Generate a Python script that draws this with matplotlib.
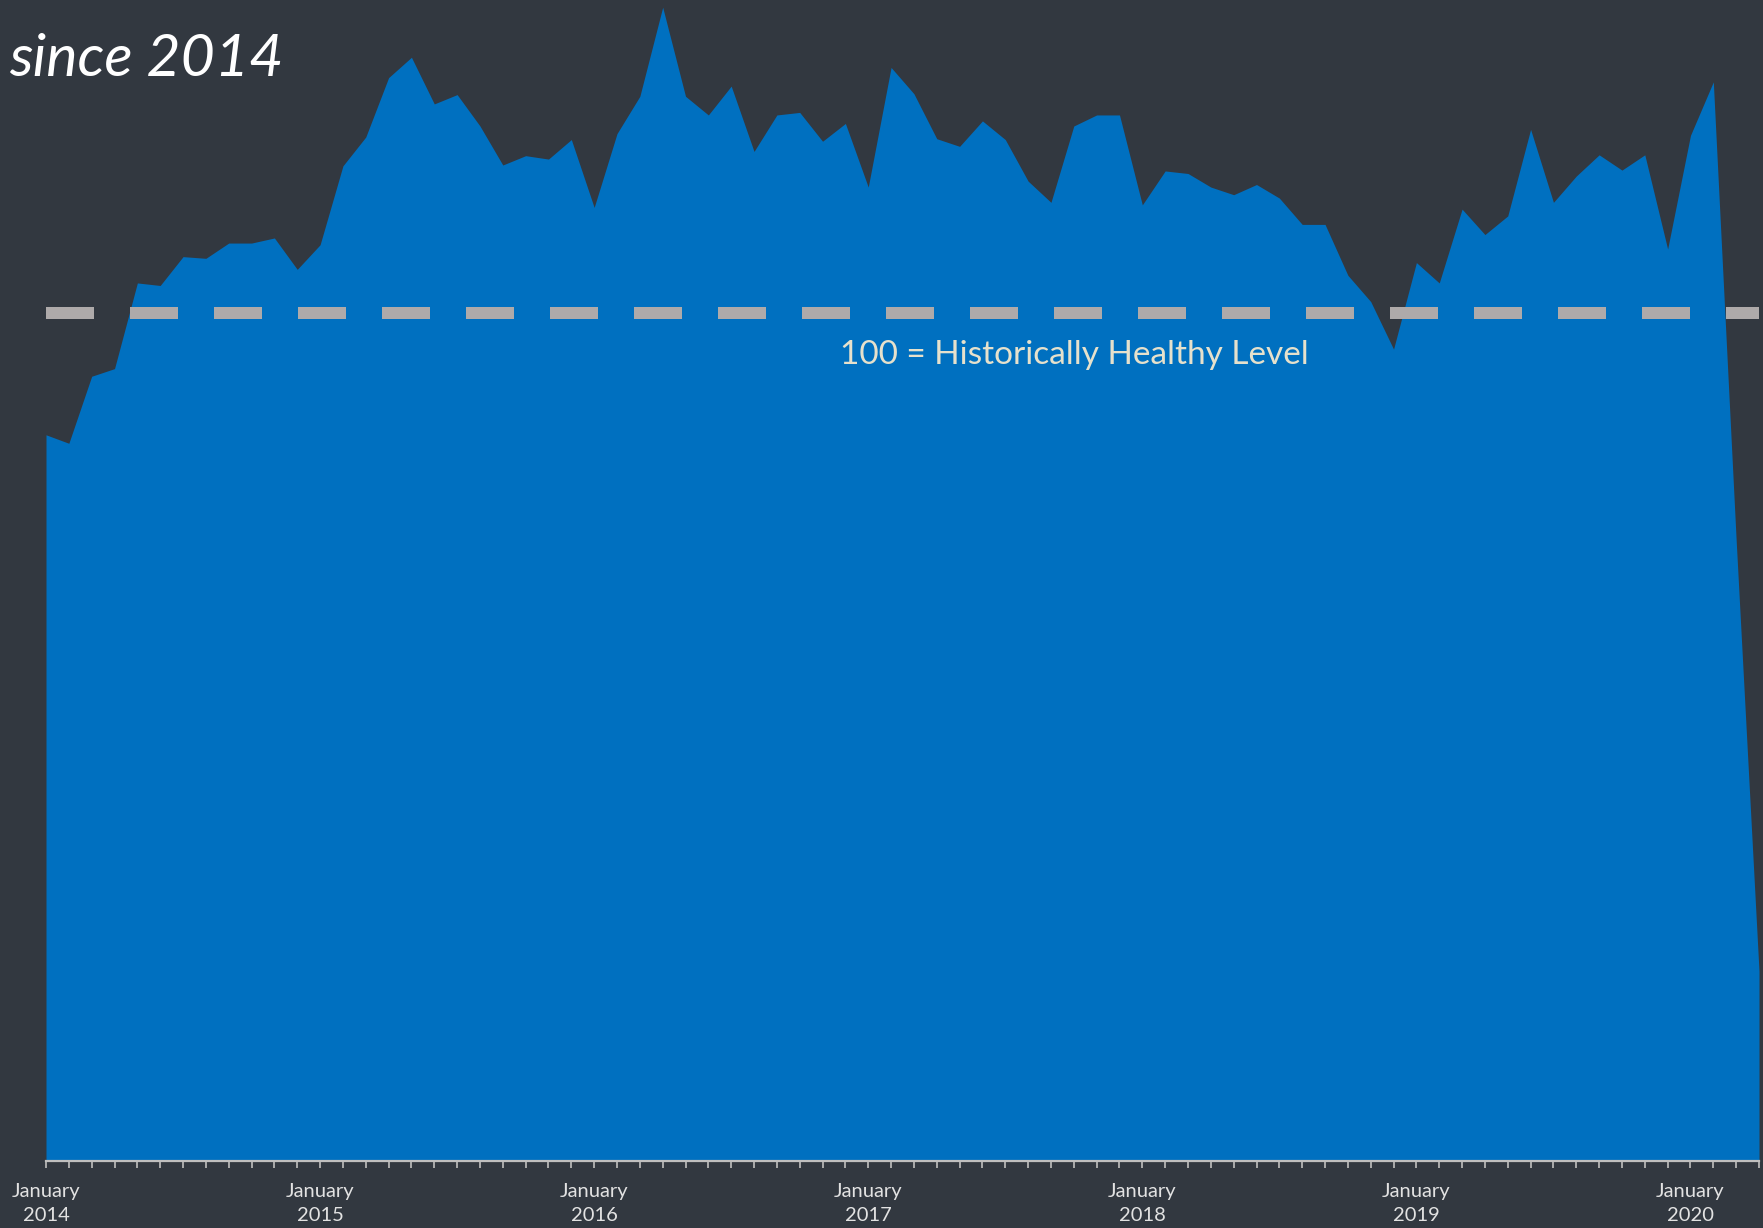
import matplotlib
matplotlib.use("Agg")
import matplotlib.pyplot as plt
from matplotlib.ticker import FixedLocator, MultipleLocator, NullFormatter
import numpy as np
import pandas as pd

# Monthly index readings, January 2014 through April 2020
months = pd.date_range("2014-01-01", "2020-04-01", freq="MS")
index_values = [
    85.6, 84.6, 92.5, 93.4, 103.5, 103.2, 106.6, 106.4, 108.2, 108.2, 108.8, 105.1,   # 2014
    108.0, 117.3, 120.7, 127.7, 130.1, 124.6, 125.7, 122.0, 117.4, 118.5, 118.1, 120.4,  # 2015
    112.4, 121.1, 125.5, 136.0, 125.5, 123.3, 126.7, 119.0, 123.3, 123.6, 120.2, 122.3,  # 2016
    114.8, 128.9, 125.8, 120.5, 119.6, 122.6, 120.4, 115.5, 113.0, 122.0, 123.3, 123.3,  # 2017
    112.7, 116.7, 116.4, 114.8, 113.9, 115.1, 113.5, 110.4, 110.4, 104.4, 101.3, 95.7,   # 2018
    105.9, 103.5, 112.2, 109.2, 111.4, 121.6, 113.0, 116.1, 118.6, 116.8, 118.6, 107.5,  # 2019
    120.9, 127.2, 73.2, 22.4,                                                              # 2020
]
healthy_level = 100

title_text = "since 2014"
healthy_text = "100 = Historically Healthy Level"

BG = "#323840"
BLUE = "#0070C0"
DASH = "#AEAAAA"
AXIS = "#BFBFBF"

W, H = 1763, 1228
fig = plt.figure(figsize=(W / 100, H / 100), dpi=100, facecolor=BG)

x = np.arange(len(months))
left_px, right_px, bottom_px = 46, 1759, 1161
ax = fig.add_axes([left_px / W, 1 - bottom_px / H, (right_px - left_px) / W, bottom_px / H])
ax.set_facecolor(BG)

ax.fill_between(x, 0, index_values, color=BLUE, linewidth=0, zorder=2)

ax.plot([x[0], x[-1]], [healthy_level, healthy_level], color=DASH, lw=8.64,
        dashes=(4, 3), solid_capstyle="butt", dash_capstyle="butt", zorder=3)

ax.set_xlim(x[0], x[-1])
ax.set_ylim(0, 136.85)

for side in ("top", "right", "left"):
    ax.spines[side].set_visible(False)
ax.spines["bottom"].set_color(AXIS)
ax.spines["bottom"].set_linewidth(1.6)
ax.spines["bottom"].set_zorder(4)
ax.set_yticks([])

jan_pos = [i for i, m in enumerate(months) if m.month == 1]
jan_labels = [f"January\n{months[i].year}" for i in jan_pos]
ax.xaxis.set_major_locator(FixedLocator(jan_pos))
ax.set_xticklabels(jan_labels)
ax.xaxis.set_minor_locator(MultipleLocator(1))
ax.xaxis.set_minor_formatter(NullFormatter())
ax.tick_params(axis="x", which="both", direction="out", length=5, width=1.2,
               color=AXIS, labelcolor="#E2E2E2", labelsize=14.5, pad=11)
for lab in ax.get_xticklabels():
    lab.set_fontfamily(["Lato", "DejaVu Sans"])
    lab.set_linespacing(1.45)

ax.text(0.4635, 0.694, healthy_text, transform=ax.transAxes, ha="left", va="center",
        fontsize=24, color="#E6E1CC", family=["Lato", "DejaVu Sans"], zorder=5)

fig.text(9 / W, 1 - 76 / H, title_text, ha="left", va="baseline", fontsize=42.5,
         style="italic", color="white", family=["Lato", "DejaVu Sans"])

fig.savefig("out.png", dpi=100, facecolor=BG)
